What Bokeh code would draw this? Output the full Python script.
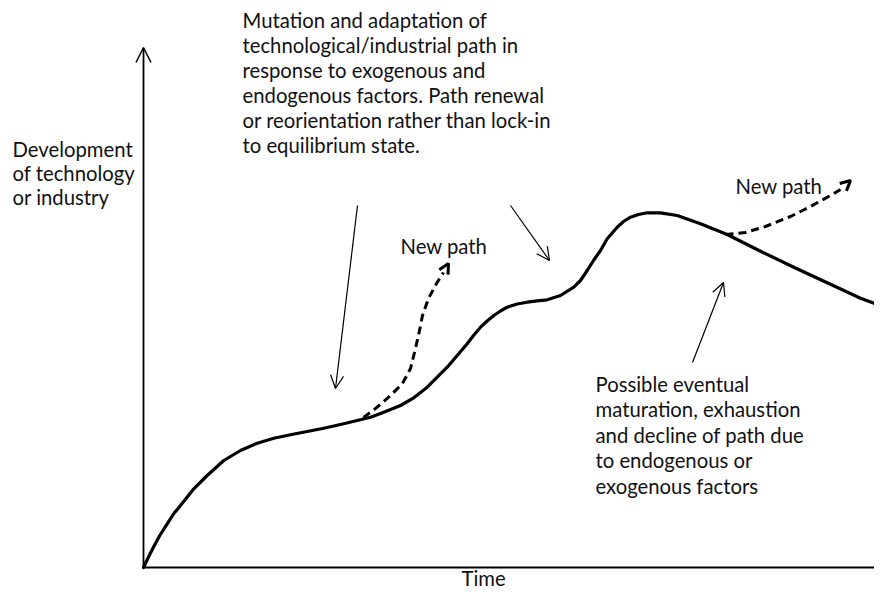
from bokeh.plotting import figure
from bokeh.models import Range1d, Arrow, OpenHead, ColumnDataSource
from bokeh.embed import file_html
from bokeh.resources import INLINE
from bokeh.core.properties import value

# ---- data (time, development) ----
path_time = [0, 5, 10.3, 16, 23.7, 30, 37, 50.3, 63.7, 80.3, 97, 113.7, 130.3, 147, 163.7,
             180.3, 197, 213.7, 227, 240.3, 257, 270.3, 283.7, 303.7, 323.7, 330, 337,
             343.7, 350.3, 357, 363.7, 373.7, 383.7, 393.7, 403.7, 417, 430.3, 437,
             443.7, 450, 457, 463.7, 473.7, 480, 487, 495, 503.7, 517, 533.7, 557,
             583.7, 617, 650.3, 683.7, 717, 735]
path_dev = [0, 10.5, 21, 31.5, 43.7, 53.5, 62, 78.7, 92, 107, 117, 124.3, 129.3, 132.7,
            136, 139.3, 143, 147, 150.3, 155.3, 162, 169.7, 180.3, 200.3, 223.7, 232,
            240.3, 246.5, 252, 256.5, 260.3, 263.5, 265.3, 266.7, 267.7, 272, 280.3,
            287, 297, 307, 317, 328.7, 340.3, 346, 350.3, 353, 354.7, 354.7, 352, 343.7,
            333, 316.3, 300.3, 284.7, 269.3, 262.5]

branch1_time = [220, 232, 247, 259, 267, 271, 275, 279, 285, 293, 300]
branch1_dev = [150, 159, 172, 184, 199, 215, 232, 252, 269, 284, 295]
branch1_tip = (305, 304)

branch2_time = [582, 602, 622, 647, 667, 687, 697]
branch2_dev = [333, 335, 341, 351, 361, 372, 378]
branch2_tip = (707, 387)

# pointer arrows: start -> end
ptr_x0 = [214, 367, 549]
ptr_y0 = [362, 362, 205]
ptr_x1 = [192, 406, 580]
ptr_y1 = [179, 307, 285]

axis_time_max = 746
axis_dev_max = 520

top_lines = ["Mutation and adaptation of",
             "technological/industrial path in",
             "response to exogenous and",
             "endogenous factors. Path renewal",
             "or reorientation rather than lock-in",
             "to equilibrium state."]
left_lines = ["Development", "of technology", "or industry"]
bottom_lines = ["Possible eventual",
                "maturation, exhaustion",
                "and decline of path due",
                "to endogenous or",
                "exogenous factors"]

FONT = value("Lato")
FS = "20.3px"

p = figure(width=874, height=592, output_backend="svg", toolbar_location=None,
           x_range=Range1d(-143, 731), y_range=Range1d(-25, 567),
           x_axis_location=None, y_axis_location=None, min_border=0)
p.grid.visible = False
p.outline_line_color = None
p.background_fill_color = "white"
p.border_fill_color = "white"

# axes
p.add_layout(Arrow(x_start=0, y_start=0, x_end=0, y_end=axis_dev_max, line_width=1.8,
                   line_color="black",
                   end=OpenHead(size=15, line_width=1.5, line_color="black")))
p.add_layout(Arrow(x_start=0, y_start=0, x_end=axis_time_max, y_end=0, line_width=1.8,
                   line_color="black",
                   end=OpenHead(size=15, line_width=1.5, line_color="black")))

# main path
p.line(path_time, path_dev, line_width=3.2, line_color="black", line_cap="round",
       line_join="round")

# new paths
p.line(branch1_time, branch1_dev, line_width=3, line_color="black", line_dash="8 5")
p.add_layout(Arrow(x_start=branch1_time[-1], y_start=branch1_dev[-1],
                   x_end=branch1_tip[0], y_end=branch1_tip[1], line_alpha=0,
                   end=OpenHead(size=10, line_width=3, line_color="black")))
p.line(branch2_time, branch2_dev, line_width=3, line_color="black", line_dash="8 5")
p.add_layout(Arrow(x_start=branch2_time[-1], y_start=branch2_dev[-1],
                   x_end=branch2_tip[0], y_end=branch2_tip[1], line_alpha=0,
                   end=OpenHead(size=10, line_width=3, line_color="black")))

# pointer arrows
src = ColumnDataSource(dict(x0=ptr_x0, y0=ptr_y0, x1=ptr_x1, y1=ptr_y1))
p.add_layout(Arrow(source=src, x_start="x0", y_start="y0", x_end="x1", y_end="y1",
                   line_width=1.2, line_color="black",
                   end=OpenHead(size=13, line_width=1.2, line_color="black")))

def block(lines, x, y0, step):
    ys = [y0 - i * step for i in range(len(lines))]
    p.text(x=[x] * len(lines), y=ys, text=lines, text_font=FONT, text_font_size=FS,
           text_color="#111111", text_baseline="alphabetic", text_align="left")

block(top_lines, 99, 547.5, 25)
block(left_lines, -131, 418.3, 24)
block(bottom_lines, 452, 184, 25.5)
block(["New path"], 257, 321.7, 0)
block(["New path"], 592, 381.7, 0)
block(["Time"], 318, -10, 0)

open("out.html", "w").write(file_html(p, INLINE))
